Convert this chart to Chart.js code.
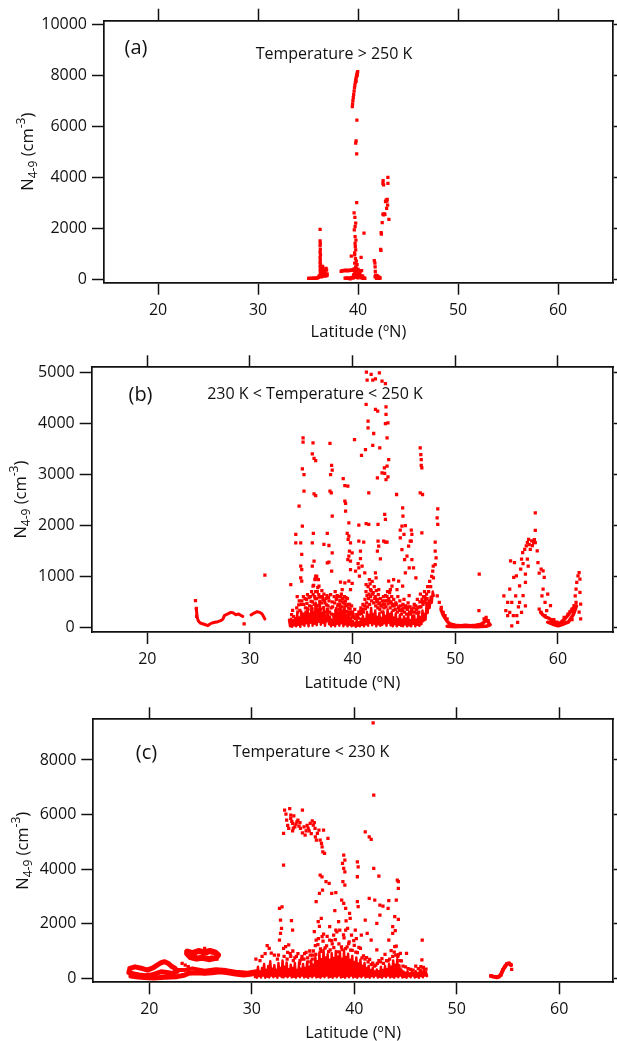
<!DOCTYPE html>
<html><head><meta charset="utf-8">
<script src="https://cdn.jsdelivr.net/npm/chart.js@4.4.1/dist/chart.umd.min.js"></script>
<style>
html,body{margin:0;padding:0;background:#fff;width:617px;height:1041px;overflow:hidden}
canvas{position:absolute;left:0;display:block}
</style></head><body>
<canvas id="ca" width="617" height="345" style="top:0px"></canvas>
<canvas id="cb" width="617" height="350" style="top:345px"></canvas>
<canvas id="cc" width="617" height="346" style="top:695px"></canvas>
<script>
// ---------- tick labels ----------
const latTicks = [20, 30, 40, 50, 60];
const aTicks = [0, 2000, 4000, 6000, 8000, 10000];
const bTicks = [0, 1000, 2000, 3000, 4000, 5000];
const cTicks = [0, 2000, 4000, 6000, 8000];

// ---------- panel (a): Temperature > 250 K ----------
const aPoints = [
[35.05,25],[35.15,20],[35.25,25],[35.35,20],[35.45,25],[35.55,30],[35.65,25],[35.75,30],[35.85,30],[35.95,40],[36.05,60],[36.1,120],
[36.2,1950],[36.2,1500],[36.22,1400],[36.2,1300],[36.22,1150],[36.2,1050],[36.24,950],[36.2,850],[36.22,750],[36.2,650],[36.24,580],[36.2,500],[36.26,420],[36.2,350],[36.28,280],[36.22,220],[36.3,160],[36.25,120],[36.35,80],
[36.45,500],[36.5,420],[36.55,350],[36.45,300],[36.6,260],[36.5,200],[36.65,180],[36.55,150],[36.7,130],[36.6,110],[36.75,160],[36.8,120],[36.7,250],[36.8,420],[36.85,350],[36.9,200],[36.9,140],[36.4,240],[36.35,380],
[39.42,6770],[39.45,6880],[39.48,7000],[39.52,7120],[39.56,7250],[39.6,7380],[39.64,7500],[39.68,7610],[39.72,7720],[39.76,7810],[39.8,7890],[39.84,7960],[39.88,8030],[39.92,8090],[39.96,8140],[39.9,7980],[39.8,7760],
[39.88,6240],[39.8,5420],[39.76,5330],[39.86,4910],[39.86,3000],[39.6,2600],[39.68,2420],[39.76,2190],[39.7,2060],[39.62,1930],[40.59,1800],[39.7,1660],[39.78,1530],[39.7,1400],[39.72,1270],[39.76,1140],[39.65,1030],[39.66,950],[39.32,900],[40.3,850],[39.74,800],[39.82,700],[39.66,620],[39.9,560],[39.76,480],[39.84,420],[39.6,400],
[38.3,300],[38.4,330],[38.5,320],[38.6,340],[38.7,330],[38.8,350],[38.9,320],[39.0,340],[39.1,330],[39.2,350],[39.3,340],[39.4,360],[39.5,350],[39.6,330],[39.7,360],[39.85,330],[40.0,380],[40.1,330],[40.2,300],[40.35,330],
[38.7,30],[38.8,20],[38.9,40],[39.0,20],[39.1,30],[39.2,10],[39.3,40],[39.4,60],[39.5,30],[39.6,80],[39.7,120],[39.8,60],[39.9,180],[40.0,40],[40.1,100],[40.2,150],[40.3,60],[40.4,30],[40.5,20],[40.6,40],[40.68,20],[39.65,200],[39.75,250],[39.95,220],[40.05,180],[40.15,250],[39.55,160],[39.85,110],[40.25,90],[40.45,120],
[41.62,720],[41.7,480],[41.68,620],[41.72,300],[41.75,150],[41.7,90],[41.8,50],[41.85,20],[41.9,60],[41.95,30],[42.0,90],[42.05,40],[42.1,20],[42.15,60],[42.2,30],[41.8,110],[41.9,130],
[42.25,1165],[42.28,1120],[42.31,1820],[42.33,1760],[42.41,2210],[42.48,2550],[42.55,2520],[42.62,2560],[42.68,2540],[42.85,2775],[42.74,3035],[42.8,3100],[42.91,3130],[42.88,3060],[42.95,2900],[43.08,2345],[42.48,3757],[42.5,3860],[42.55,3700],[42.98,3757],[42.98,3990]
];

// ---------- panel (b): 230 K < Temperature < 250 K ----------
const bPoints = [
[24.69,521],[24.77,371],[24.8,215],[31.45,1022],[29.43,65],
[41.34,5003],[41.8,4957],[42.6,4990],[41.41,4846],[41.96,4846],[42.22,4872],[42.86,4826],[43.19,4780],[41.31,4369],[42.22,4271],[42.44,4238],[43.25,4323],[43.25,4173],[43.19,3996],[43.44,4009],[41.5,4042],[41.5,3911],[42.05,3800],[43.35,3715],[40.18,3682],[41.25,3486],[40.86,3369],[41.96,3565],[42.64,3519],[43.51,3290],[43.09,3127],[43.35,3160],[42.86,3029],[43.12,3016],[43.25,2898],[42.41,2931],[43.44,2950],[41.57,2637],[44.28,2604],[43.19,2114],[43.12,2212],[42.47,2016],[41.31,2035],[40.6,2003],[44.87,2343],[44.9,2179],[44.8,1983],[45.13,1996],[44.64,1905],[44.64,1754],[45.0,1820],[45.71,1905],[45.77,1820],[45.71,1689],[46.74,1852],[46.58,3519],[46.64,3388],[46.68,3290],[46.68,3173],[46.74,3127],[46.58,2637],[46.81,2604],[48.29,2323],[48.23,2147],[48.29,2016],[48.04,1670],[48.04,1493],[48.13,1362],[48.04,1231],[47.87,970],
[35.17,3715],[35.17,3630],[36.14,3617],[36.07,3401],[36.24,3310],[36.4,3270],[37.79,3604],[37.95,3173],[37.85,2996],[38.01,3081],[35.1,3107],[35.26,2996],[35.26,2669],[34.78,2375],[35.1,1983],[34.46,1820],[34.46,1656],[34.94,1656],[35.04,1428],[34.94,1199],[35.04,1133],[34.94,970],[35.04,905],[33.97,839],[36.17,1840],[36.07,1656],[36.24,1297],[36.07,1199],[36.4,1003],[36.33,937],[36.14,807],[36.66,937],[36.72,807],[37.2,1624],[37.53,1840],[37.69,1604],[38.01,1460],[37.95,1101],[37.69,1277],[36.24,2617],[36.4,2584],[37.79,2669],[37.92,2637],[39.08,2917],[39.24,2780],[39.53,2767],[39.24,2473],[39.31,2428],[39.31,2277],[39.63,2048],[39.47,1840],[39.63,1787],[39.56,1722],[39.79,1656],[39.69,1493],[39.63,1395],[39.79,1297],[39.79,1133],[39.63,905],[39.95,859],[38.01,2179],[40.6,1689],[40.76,1493],[40.53,1251],[40.6,1166],[40.66,1003],[39.95,1460],[38.82,885],[39.24,872],[38.98,741],[39.79,741],[40.28,1101],[40.92,1199],[41.18,1068],[41.31,839],[41.63,937],[41.73,741],[42.22,1068],[42.28,970],[42.54,741],[42.38,545],[43.51,905],[43.67,741],[43.83,807],[43.99,937],[44.32,741],[44.48,905],[44.87,807],[45.13,1068],[44.8,1525],[45.06,1329],[45.29,1395],[45.45,1591],[45.61,1689],[45.51,1166],[45.77,1329],[45.93,1166],[46.16,970],[43.19,1670],[43.02,1689],[43.35,1670],[42.47,1689],[42.7,1342],[42.41,1493],[42.54,1591],[41.08,1670],[41.57,2016],[40.76,1349],[39.53,1329],[37.53,1264],
[34.6,600],[34.8,520],[35.0,450],[35.2,600],[35.4,380],[35.5,550],[35.6,640],[35.8,420],[35.9,600],[36.0,700],[36.1,500],[36.2,820],[36.3,600],[36.35,950],[36.4,700],[36.5,1000],[36.5,560],[36.6,780],[36.7,640],[36.8,500],[36.9,600],[37.0,720],[37.1,550],[37.2,650],[37.3,480],[37.4,560],[37.5,620],[37.6,420],[37.7,520],[37.85,640],[37.9,380],[38.0,500],
[38.2,600],[38.3,700],[38.4,550],[38.5,620],[38.6,450],[38.7,600],[38.8,520],[38.9,650],[39.0,560],[39.1,480],[39.2,600],[39.3,520],[39.4,420],[39.5,560],[39.6,380],[39.7,450],[39.8,300],[39.9,420],[40.0,300],[40.2,350],[40.4,250],[40.6,300],[40.8,380],[41.0,450],
[41.2,550],[41.3,700],[41.4,620],[41.5,800],[41.6,650],[41.7,850],[41.8,720],[41.9,900],[42.0,680],[42.1,800],[42.2,600],[42.3,720],[42.4,550],[42.5,640],[42.6,480],[42.7,560],[42.8,420],[42.9,520],[43.0,600],[43.1,450],[43.2,620],[43.3,520],[43.4,700],[43.5,560],[43.6,680],[43.7,500],[43.8,600],[43.9,450],
[44.0,550],[44.2,480],[44.4,600],[44.5,400],[44.6,520],[44.8,350],[44.9,450],[45.0,550],[45.2,380],[45.4,480],[45.5,620],[45.6,400],[45.8,300],[46.0,450],[46.2,350],[46.3,550],[46.5,400],[46.6,650],[46.8,500],[46.9,600],[47.0,700],[47.1,550],[47.2,650],[47.3,800],[47.4,700],[47.5,900],[47.6,800],[47.7,1000],[47.8,1100],[47.85,1200],
[34.05,250],[34.15,330],[34.25,210],[34.35,120],[34.55,380],[34.65,300],[34.75,440],[34.85,330],[35.05,520],[35.15,260],[35.25,450],[35.35,560],[35.45,300],[35.55,470],[35.65,350],[35.75,580],[35.85,260],[35.95,510],[36.05,360],[36.15,640],[36.25,450],[36.35,560],[36.45,380],[36.55,700],[36.65,430],[36.75,590],[36.85,350],[36.95,480],[37.05,600],[37.15,380],[37.25,520],[37.35,300],[37.45,440],[37.55,350],[37.65,580],[37.75,300],[37.95,260],[38.05,400],[38.15,230],[38.25,480],[38.35,320],[38.45,560],[38.55,420],[38.65,350],[38.75,520],[38.85,600],[38.95,400],[39.05,500],[39.15,330],[39.25,460],[39.35,580],[39.45,310],[39.55,450],[39.65,250],[39.75,360],[39.85,260],[39.95,200],[40.05,250],[40.15,200],[40.25,170],[40.45,220],[40.55,180],[40.65,260],[40.75,320],[40.85,270],[40.95,350],[41.05,300],[41.15,420],[41.25,360],[41.35,480],[41.45,400],[41.55,560],[41.65,450],[41.75,600],[41.85,520],[41.95,650],[42.05,480],[42.15,560],[42.25,420],[42.35,500],[42.45,380],[42.55,460],[42.65,350],[42.75,420],[42.85,300],[42.95,460],[43.05,380],[43.15,520],[43.25,400],[43.35,600],[43.45,460],[43.55,520],[43.65,380],[43.75,480],[43.85,420],[43.95,330],[44.05,420],[44.15,350],[44.25,450],[44.35,300],[44.45,380],[44.55,330],[44.65,420],[44.75,260],[44.85,320],[44.95,380],[45.05,300],[45.15,420],[45.25,260],[45.35,350],[45.45,400],[45.55,300],[45.65,260],[45.75,350],[45.85,220],[45.95,380],[46.05,300],[46.15,420],[46.25,280],[46.35,380],[46.45,300],[46.55,500],[46.65,400],[46.75,550],[46.85,450],[46.95,500],[47.05,600],[47.15,480],[47.25,560],
[48.24,618],[48.44,488],[48.63,391],[48.82,293],[49.0,228],[49.2,163],[52.33,1042],[52.3,325],[52.8,163],[53.0,195],[53.2,130],
[54.73,618],[54.92,325],[55.1,228],[55.3,749],[55.38,1302],[55.5,488],[55.69,977],[55.76,1270],[55.88,618],[55.99,228],[56.07,98],[56.15,400],[56.26,814],[56.37,1139],[56.45,1335],[56.56,1465],[56.6,1250],[56.76,1530],[56.83,1042],[56.91,1595],[57.02,1660],[57.14,1725],[57.2,1620],[57.3,1530],[57.44,1693],[57.5,1600],[57.63,1660],[57.7,1720],[57.79,1660],[57.79,1901],[57.79,2246],[57.02,1335],[57.1,1200],[56.83,879],[56.6,620],[56.26,490],[56.45,293],[56.83,420],[55.95,1010],[55.65,228],[55.3,293],[55.1,490],[55.5,30],
[57.98,1497],[58.05,1270],[58.17,1060],[58.36,1139],[58.55,1107],[58.66,977],[58.55,749],[58.44,618],[58.74,488],[58.17,358],[58.36,293],[58.74,228],[59.0,651],[59.27,423],[58.9,325],[60.6,195],[60.98,260],[61.18,306],[61.37,358],[61.56,423],[61.68,618],[61.76,749],[61.83,879],[61.95,1009],[62.06,1074],[62.14,944],[62.14,684],[62.21,456],[62.21,163],[62.06,300],[61.76,490],[61.37,150],[60.8,98],[60.4,60],[59.9,100],[59.6,150]
];
const bBandLeftA = [[24.77,370],[24.85,200],[24.96,130],[25.15,85],[25.46,65],[25.73,46],[25.9,33],[26.1,65],[26.3,85],[26.6,98],[26.87,110],[27.14,130],[27.37,163],[27.5,228],[27.8,260],[28.13,293],[28.4,280],[28.59,247],[28.9,260],[29.16,228],[29.3,215]];
const bBandLeftB = [[30.1,241],[30.4,280],[30.69,306],[30.95,293],[31.18,260],[31.45,163]];
const bBandMain = [
[33.8,150],[33.9,20],[34.0,170],[34.1,10],[34.2,140],[34.3,40],[34.4,180],[34.5,20],[34.6,260],[34.7,50],[34.8,190],[34.9,10],[35.0,310],[35.1,60],[35.2,220],[35.3,30],[35.4,280],[35.5,80],[35.6,380],[35.7,20],[35.8,250],[35.9,90],[36.0,420],[36.1,30],[36.2,300],[36.3,70],[36.4,480],[36.5,40],[36.6,350],[36.7,110],[36.8,520],[36.9,50],[37.0,280],[37.1,90],[37.2,400],[37.3,30],[37.4,230],[37.5,120],[37.6,330],[37.7,60],[37.8,200],[37.9,20],[38.0,150],[38.1,50],[38.2,260],[38.3,20],[38.4,380],[38.5,70],[38.6,290],[38.7,30],[38.8,450],[38.9,80],[39.0,320],[39.1,20],[39.2,410],[39.3,60],[39.4,250],[39.5,20],[39.6,300],[39.7,50],[39.8,180],[39.9,20],[40.0,130],[40.1,40],[40.2,90],[40.3,10],[40.4,140],[40.5,30],[40.6,100],[40.7,20],[40.8,170],[40.9,50],[41.0,220],[41.1,20],[41.2,160],[41.3,60],[41.4,300],[41.5,30],[41.6,240],[41.7,90],[41.8,380],[41.9,40],[42.0,260],[42.1,70],[42.2,330],[42.3,20],[42.4,200],[42.5,60],[42.6,280],[42.7,30],[42.8,180],[42.9,50],[43.0,310],[43.1,80],[43.2,220],[43.3,30],[43.4,350],[43.5,90],[43.6,260],[43.7,40],[43.8,300],[43.9,20],[44.0,190],[44.1,60],[44.2,270],[44.3,20],[44.4,160],[44.5,50],[44.6,240],[44.7,30],[44.8,150],[44.9,20],[45.0,210],[45.1,60],[45.2,170],[45.3,20],[45.4,260],[45.5,40],[45.6,140],[45.7,20],[45.8,190],[45.9,70],[46.0,230],[46.1,20],[46.2,150],[46.3,50],[46.4,280],[46.5,30],[46.6,200],[46.7,60],[46.8,330],[46.9,120],[47.0,260],[47.1,150],[47.2,450],[47.3,280],[47.4,520],[47.5,380],[47.6,600],[47.7,480],[47.8,700],[47.9,620]
];
const bBandR1 = [[48.6,350],[48.8,250],[49.0,180],[49.2,120],[49.4,80],[49.6,60],[49.8,50],[50.0,40],[50.5,30],[51.0,40],[51.5,30],[52.0,40],[52.5,60],[52.8,100],[53.0,150],[53.2,100],[53.4,50],[53.0,20],[52.0,10],[51.0,20],[50.0,10],[49.2,20]];
const bBandR2 = [[58.3,300],[58.5,250],[58.8,200],[59.1,180],[59.4,140],[59.7,100],[60.0,70],[60.3,100],[60.6,150],[60.9,220],[61.2,300],[61.5,380],[61.8,420],[61.5,250],[61.0,100],[60.5,60],[60.0,30],[59.5,60],[59.0,100]];

// ---------- panel (c): Temperature < 230 K ----------
const cPoints = [
[41.84,9357],[41.9,6710],[41.07,5368],[41.46,5185],[41.65,5087],[41.9,4026],[42.4,3745],[40.3,4270],[40.38,4087],[40.3,3721],[38.97,4514],[39.08,4331],[38.85,4209],[38.97,4026],[39.08,3904],[38.89,3538],[39.08,3416],[36.67,3782],[36.85,3720],[37.24,3538],[37.55,3477],[36.9,3233],[36.6,3111],[36.28,2806],[37.8,3111],[38.2,3135],[38.77,2867],[38.97,2745],[39.16,2562],[38.1,2477],[41.46,2928],[42.0,2867],[42.5,2684],[42.8,2647],[43.37,2843],[43.3,2562],[44.2,3599],[44.3,3538],[44.3,3294],[44.1,2867],[43.95,2257],[44.3,2159],[42.5,2318],[42.2,2013],[41.07,2135],[40.3,2806],[40.38,2623],[39.54,2379],[39.6,2200],[39.2,2100],[39.35,1830],[38.47,2074],[38.2,1769],[37.6,1891],[36.78,2196],[36.48,2074],[36.6,1900],[36.1,1708],[36.28,1403],[36.86,1525],[37.6,1403],[37.99,1586],[38.58,1769],[39.16,1769],[39.73,1586],[40.1,1769],[40.2,1450],[40.69,1586],[41.26,1647],[41.65,1403],[42.2,1037],[43.37,1403],[43.75,1647],[43.75,1891],[44.0,1750],[43.95,1159],[44.5,915],[45.1,915],[46.63,1403],[46.6,671],[46.5,427],[33.98,1769],[32.7,2562],[33.87,2111],[33.1,4148],
[33.2,6161],[33.7,6222],[33.33,6015],[33.1,5307],[33.4,5795],[33.8,5856],[33.98,5673],[34.2,5551],[34.6,5575],[34.4,5734],[34.75,5490],[34.94,5331],[34.94,6161],[35.3,5405],[35.5,5490],[35.7,5673],[35.9,5770],[36.0,5612],[36.17,5490],[36.2,5185],[36.3,5063],[36.4,5307],[36.55,5429],[36.67,5063],[36.86,4819],[36.93,4636],[37.1,4575],[36.8,4941],[37.0,5429],[37.43,5124],[33.8,5978],[33.9,5750],[34.1,5950],[34.3,5650],[34.5,5800],[33.6,5490],[33.98,5405],[34.7,5700],[35.1,5550],[35.4,5600],[35.6,5400],[35.2,5250],[35.8,5300],[36.1,5700],[33.5,5600],[34.05,5500],
[30.4,700],[30.8,650],[31.0,800],[31.3,900],[31.5,1200],[31.7,1100],[31.9,920],[32.2,850],[32.5,700],[32.6,850],[32.7,1400],[32.8,1650],[32.9,1830],[32.8,2130],[32.95,2620],[33.1,1100],[33.3,1160],[33.6,1220],[33.5,950],[33.8,800],[34.0,1000],[34.2,750],[34.5,900],[34.7,650],[34.9,800],[35.1,700],[35.3,950],[35.5,600],[35.7,850],[35.9,700],[36.0,1000],[36.2,1200],
[36.5,1450],[36.7,1080],[37.0,1620],[37.3,1190],[37.5,980],[37.8,1380],[38.0,1120],[38.3,1700],[38.5,1260],[38.8,1050],[39.0,1480],[39.3,1150],[39.5,1330],[39.8,1020],[40.0,1210],[40.3,940],[40.6,1100],[40.9,820],[41.2,760],[41.5,690],[41.8,560],[42.1,480],[42.4,650],[42.7,720],[43.0,880],[43.3,640],[43.6,1010],[43.9,960],[44.1,1180],[44.3,870],[44.6,640],[45.0,420],[45.5,330],[46.0,450],[46.5,300],[47.0,340],
[33.15,800],[33.45,700],[33.75,900],[34.05,650],[34.35,800],[34.65,550],[34.85,700],[35.15,900],[35.45,750],[35.65,1000],[35.95,850],[36.25,880],[36.45,1230],[36.75,990],[36.95,1360],[37.15,1110],[37.35,1540],[37.65,1040],[37.85,1260],[38.15,1420],[38.45,970],[38.75,1150],[38.95,1590],[39.15,1090],[39.45,1270],[39.65,1030],[39.95,1380],[40.15,960],[40.45,1130],[40.75,750],[41.05,700],[41.35,600],[41.65,500],[41.95,450],[42.25,550],[42.55,600],[42.85,550],[43.15,650],[43.45,700],[43.75,800],[44.05,850],[44.25,800],[44.45,650],[44.75,450],[45.25,350],[45.75,300],[46.25,350],[46.75,400],
[23.6,976],[23.8,900],[24.2,960],[24.5,880],[24.8,1000],[25.2,920],[25.4,1098],[25.6,900],[26.0,950],[26.3,976],[26.5,880],[26.7,854],[24.0,750],[24.4,700],[24.9,780],[25.5,720],[26.1,780],[26.6,700],[23.2,550],[23.5,480],[23.8,430],
[53.33,85],[53.6,61],[53.9,37],[54.1,61],[54.3,122],[54.5,305],[54.7,427],[54.9,525],[55.1,549],[55.3,488],[55.36,330]
];
const cLoopUpper = [[18.1,360],[18.6,420],[19.2,370],[19.8,300],[20.4,390],[20.8,490],[21.15,570],[21.5,610],[21.9,530],[22.2,430],[22.5,370],[22.7,250],[22.3,180],[21.7,210],[21.15,240],[20.7,180],[20.2,120],[19.6,90],[19.0,120],[18.5,160],[18.0,210],[18.1,360]];
const cLoopLower = [[18.2,80],[18.7,60],[19.5,30],[20.4,10],[21.5,40],[22.7,60],[23.4,110],[23.8,180],[24.6,200],[25.4,180],[26.1,200],[26.9,240],[27.7,200],[28.4,160],[29.2,120],[30.0,160],[30.5,240]];
const cBandUpper = [[22.8,300],[23.4,300],[24.2,360],[25.4,280],[26.5,330],[27.5,300],[28.4,240],[29.6,200],[30.3,250]];
const cIsland = [[23.7,980],[24.2,920],[24.8,1000],[25.4,950],[25.9,1000],[26.4,950],[26.7,850],[26.5,750],[25.9,700],[25.2,750],[24.6,720],[24.0,780],[23.7,900]];
const cBandMain = [
[30.3,50],[30.4,280],[30.5,20],[30.6,420],[30.7,80],[30.8,250],[30.9,30],[31.0,380],[31.1,100],[31.2,520],[31.3,20],[31.4,300],[31.5,60],[31.6,450],[31.7,30],[31.8,620],[31.9,100],[32.0,350],[32.1,40],[32.2,480],[32.3,80],[32.4,300],[32.5,20],[32.6,560],[32.7,100],[32.8,380],[32.9,50],[33.0,650],[33.1,30],[33.2,420],[33.3,80],[33.4,580],[33.5,40],[33.6,330],[33.7,100],[33.8,500],[33.9,30],[34.0,380],[34.1,60],[34.2,560],[34.3,20],[34.4,300],[34.5,80],[34.6,470],[34.7,40],[34.8,350],[34.9,100],[35.0,520],[35.1,30],[35.2,380],[35.3,60],[35.4,600],[35.5,20],[35.6,420],[35.7,80],[35.8,650],[35.9,40],[36.0,500],[36.1,100],[36.2,780],[36.3,30],[36.4,620],[36.5,60],[36.6,950],[36.7,20],[36.8,700],[36.9,80],[37.0,1050],[37.1,40],[37.2,760],[37.3,100],[37.4,880],[37.5,30],[37.6,680],[37.7,60],[37.8,920],[37.9,20],[38.0,740],[38.1,80],[38.2,1000],[38.3,40],[38.4,800],[38.5,100],[38.6,960],[38.7,30],[38.8,720],[38.9,60],[39.0,1020],[39.1,20],[39.2,780],[39.3,80],[39.4,900],[39.5,40],[39.6,680],[39.7,100],[39.8,820],[39.9,30],[40.0,600],[40.1,60],[40.2,760],[40.3,20],[40.4,540],[40.5,80],[40.6,680],[40.7,40],[40.8,460],[40.9,100],[41.0,560],[41.1,30],[41.2,380],[41.3,60],[41.4,450],[41.5,20],[41.6,300],[41.7,80],[41.8,380],[41.9,40],[42.0,250],[42.1,100],[42.2,320],[42.3,30],[42.4,260],[42.5,60],[42.6,420],[42.7,20],[42.8,300],[42.9,80],[43.0,450],[43.1,40],[43.2,330],[43.3,100],[43.4,520],[43.5,30],[43.6,420],[43.7,60],[43.8,650],[43.9,20],[44.0,500],[44.1,80],[44.2,700],[44.3,40],[44.4,480],[44.5,100],[44.6,320],[44.7,30],[44.8,250],[44.9,60],[45.0,200],[45.1,20],[45.2,260],[45.3,80],[45.4,180],[45.5,40],[45.6,240],[45.7,100],[45.8,200],[45.9,30],[46.0,260],[46.1,60],[46.2,190],[46.3,20],[46.4,280],[46.5,80],[46.6,220],[46.7,40],[46.8,300],[46.9,100],[47.0,230],[47.1,80]
];
const cRightBand = [[53.33,85],[53.6,61],[53.9,37],[54.1,61],[54.3,122],[54.5,305],[54.7,427],[54.9,525],[55.1,549],[55.3,488]];

// ---------- drawing ----------
const FONT = '"Open Sans", "DejaVu Sans", sans-serif';
const RED = '#ff0000';
const INK = '#111111';

function pts(arr) { return arr.map(p => ({ x: p[0], y: p[1] })); }
function scatterSet(arr) {
  return { data: pts(arr), pointStyle: 'rect', pointRadius: 2.3, backgroundColor: RED, borderWidth: 0, showLine: false };
}
function bandSet(arr, w) {
  return { data: pts(arr), showLine: true, pointRadius: 0, borderColor: RED, borderWidth: w, tension: 0, borderJoinStyle: 'round', borderCapStyle: 'round' };
}

const textPlugin = {
  id: 'panelText',
  afterDatasetsDraw(chart, args, o) {
    const ctx = chart.ctx;
    ctx.save();
    ctx.fillStyle = INK;
    ctx.textAlign = 'center';
    ctx.textBaseline = 'middle';
    ctx.font = '16px ' + FONT;
    if (o.bg) {
      const w = ctx.measureText(o.cond).width;
      ctx.fillStyle = '#fff';
      ctx.fillRect(o.condX - w / 2 - 1, o.condY - 8, w + 2, 16);
      ctx.fillStyle = INK;
    }
    ctx.fillText(o.cond, o.condX, o.condY);
    ctx.font = '20px ' + FONT;
    ctx.fillText(o.tag, o.tagX, o.tagY);
    ctx.restore();
  },
  afterDraw(chart, args, o) {
    const ctx = chart.ctx, ca = chart.chartArea;
    ctx.save();
    ctx.fillStyle = INK;
    ctx.textAlign = 'center';
    ctx.textBaseline = 'middle';
    ctx.font = '16.5px ' + FONT;
    ctx.fillText('Latitude (\u00baN)', (ca.left + ca.right) / 2, ca.bottom + o.xTitleGap);
    const parts = [
      { t: 'N', s: 16.5, d: 0 },
      { t: '4-9', s: 12, d: 4 },
      { t: ' (cm', s: 16.5, d: 0 },
      { t: '-3', s: 12, d: -8 },
      { t: ')', s: 16.5, d: 0 }
    ];
    let total = 0;
    parts.forEach(p => { ctx.font = p.s + 'px ' + FONT; p.w = ctx.measureText(p.t).width; total += p.w; });
    ctx.translate(o.yTitleX, (ca.top + ca.bottom) / 2);
    ctx.rotate(-Math.PI / 2);
    ctx.textAlign = 'left';
    ctx.textBaseline = 'alphabetic';
    let cur = -total / 2;
    parts.forEach(p => { ctx.font = p.s + 'px ' + FONT; ctx.fillText(p.t, cur, p.d); cur += p.w; });
    ctx.restore();
  }
};

function axisCommon(extra) {
  return Object.assign({
    type: 'linear',
    grid: { display: true, drawOnChartArea: false, drawTicks: true, tickLength: 12, tickWidth: 1.5, tickColor: INK },
    border: { display: true, color: INK, width: 1.7 }
  }, extra);
}

function makePanel(id, L, yTicks, datasets, text) {
  const setX = s => { s.ticks = latTicks.map(v => ({ value: v })); };
  const setY = s => { s.ticks = yTicks.map(v => ({ value: v })); };
  const tickFont = { family: FONT, size: 16 };
  new Chart(document.getElementById(id), {
    type: 'scatter',
    data: { datasets },
    options: {
      responsive: false, animation: false, events: [],
      layout: { padding: 0 },
      plugins: { legend: { display: false }, tooltip: { enabled: false }, panelText: text },
      scales: {
        x: axisCommon({ position: 'bottom', min: L.xmin, max: L.xmax, afterBuildTicks: setX,
          afterFit: s => { s.height = L.H - L.bottom; },
          ticks: { font: tickFont, color: INK, padding: 6, maxRotation: 0, autoSkip: false, callback: v => String(v) } }),
        x2: axisCommon({ position: 'top', min: L.xmin, max: L.xmax, afterBuildTicks: setX,
          afterFit: s => { s.height = L.top; }, ticks: { display: false } }),
        y: axisCommon({ position: 'left', min: L.ymin, max: L.ymax, afterBuildTicks: setY,
          afterFit: s => { s.width = L.left; },
          ticks: { font: tickFont, color: INK, padding: 5, autoSkip: false, callback: v => String(v) } }),
        y2: axisCommon({ position: 'right', min: L.ymin, max: L.ymax, afterBuildTicks: setY,
          afterFit: s => { s.width = L.W - L.right; }, ticks: { display: false },
          grid: { display: true, drawOnChartArea: false, drawTicks: true, tickLength: 6, tickWidth: 1.5, tickColor: INK } })
      }
    },
    plugins: [textPlugin]
  });
}

makePanel('ca',
  { W: 617, H: 345, left: 104, right: 615, top: 20.7, bottom: 282.7, xmin: 14.59, xmax: 65.49, ymin: -145, ymax: 10141 },
  aTicks,
  [scatterSet(aPoints)],
  { tag: '(a)', tagX: 136, tagY: 48, cond: 'Temperature > 250 K', condX: 334, condY: 54, bg: false, xTitleGap: 50, yTitleX: 33 });

makePanel('cb',
  { W: 617, H: 350, left: 91.7, right: 615, top: 22.3, bottom: 287, xmin: 14.58, xmax: 65.36, ymin: -92, ymax: 5098 },
  bTicks,
  [bandSet(bBandLeftA, 3), bandSet(bBandLeftB, 3), bandSet(bBandMain, 2.5), bandSet(bBandR1, 3.5), bandSet(bBandR2, 3.5), scatterSet(bPoints)],
  { tag: '(b)', tagX: 140.5, tagY: 50.7, cond: '230 K < Temperature < 250 K', condX: 315, condY: 49.3, bg: true, xTitleGap: 51, yTitleX: 26 });

makePanel('cc',
  { W: 617, H: 346, left: 93.3, right: 615, top: 24.3, bottom: 287.3, xmin: 14.53, xmax: 65.25, ymin: -147, ymax: 9491 },
  cTicks,
  [bandSet(cLoopUpper, 5), bandSet(cLoopLower, 5), bandSet(cBandUpper, 4), bandSet(cIsland, 6), bandSet(cBandMain, 2.5), bandSet(cRightBand, 4), scatterSet(cPoints)],
  { tag: '(c)', tagX: 146.5, tagY: 58.3, cond: 'Temperature < 230 K', condX: 311, condY: 57.7, bg: false, xTitleGap: 51, yTitleX: 27.5 });
</script>
</body></html>
